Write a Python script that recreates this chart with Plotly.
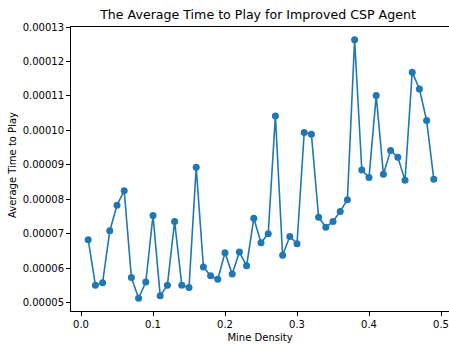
import plotly.graph_objects as go

mine_density = [round(0.01 * i, 2) for i in range(1, 50)]
avg_time = [
    6.83e-5, 5.51e-5, 5.58e-5, 7.09e-5, 7.83e-5, 8.25e-5, 5.73e-5, 5.13e-5, 5.60e-5, 7.53e-5,
    5.20e-5, 5.51e-5, 7.36e-5, 5.51e-5, 5.44e-5, 8.93e-5, 6.04e-5, 5.78e-5, 5.68e-5, 6.45e-5,
    5.83e-5, 6.47e-5, 6.07e-5, 7.45e-5, 6.74e-5, 7.00e-5, 1.042e-4, 6.38e-5, 6.92e-5, 6.71e-5,
    9.94e-5, 9.89e-5, 7.48e-5, 7.19e-5, 7.36e-5, 7.65e-5, 7.99e-5, 1.263e-4, 8.85e-5, 8.63e-5,
    1.101e-4, 8.73e-5, 9.42e-5, 9.22e-5, 8.55e-5, 1.169e-4, 1.120e-4, 1.029e-4, 8.58e-5,
]
x_ticks = [0.0, 0.1, 0.2, 0.3, 0.4, 0.5]
x_tick_labels = ["0.0", "0.1", "0.2", "0.3", "0.4", "0.5"]
y_ticks = [5e-5, 6e-5, 7e-5, 8e-5, 9e-5, 1e-4, 1.1e-4, 1.2e-4, 1.3e-4]
y_tick_labels = ["0.00005", "0.00006", "0.00007", "0.00008", "0.00009",
                 "0.00010", "0.00011", "0.00012", "0.00013"]

fig = go.Figure(go.Scatter(
    x=mine_density, y=avg_time, mode="lines+markers",
    line=dict(color="#1f77b4", width=1.6),
    marker=dict(color="#1f77b4", size=7),
))

font = dict(family="DejaVu Sans", size=10, color="black")
fig.update_layout(
    width=449, height=345,
    margin=dict(l=71, r=0, t=27, b=34),
    paper_bgcolor="white", plot_bgcolor="white",
    showlegend=False,
    font=font,
    title=dict(text="The Average Time to Play for Improved CSP Agent",
               x=258 / 449, xanchor="center", y=1 - 15 / 345, yanchor="middle",
               font=dict(family="DejaVu Sans", size=12.6, color="black")),
    xaxis=dict(
        range=[-0.01389, 0.5111], tickvals=x_ticks, ticktext=x_tick_labels,
        showgrid=False, zeroline=False, showline=True, linecolor="black", linewidth=1,
        mirror=True, ticks="outside", ticklen=4, tickcolor="black", tickwidth=1,
        title=dict(text="Mine Density", font=font, standoff=4),
        tickfont=font,
    ),
    yaxis=dict(
        range=[4.76e-5, 1.3e-4], tickvals=y_ticks, ticktext=y_tick_labels,
        showgrid=False, zeroline=False, showline=True, linecolor="black", linewidth=1,
        mirror=False, ticks="outside", ticklen=4, tickcolor="black", tickwidth=1,
        tickfont=font,
    ),
    annotations=[dict(
        text="Average Time to Play", textangle=-90, xref="paper", yref="paper",
        x=-(71 - 12) / 378, y=(345 - 34 - 165) / (345 - 34 - 27), xanchor="center", yanchor="middle",
        showarrow=False, font=font,
    )],
)

fig.write_html("out.html")
